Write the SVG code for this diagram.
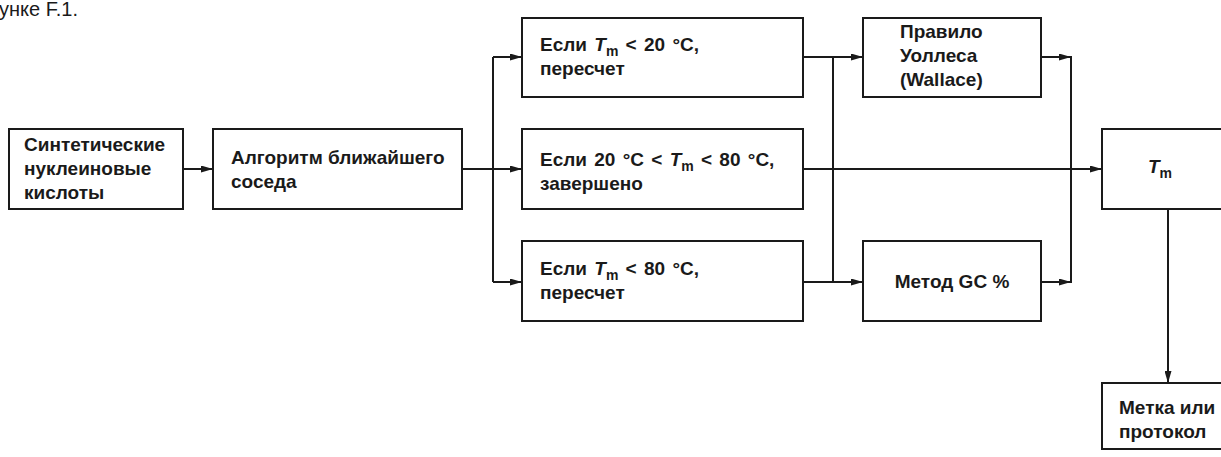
<svg xmlns="http://www.w3.org/2000/svg" width="1221" height="457" viewBox="0 0 1221 457">
  <style>
    .box { fill: #ffffff; stroke: #1a1a1a; stroke-width: 2; }
    .lbl { font-family: "Liberation Sans", Arial, sans-serif; font-weight: bold; font-size: 19px; fill: #1a1a1a; }
    .cap { font-family: "Liberation Sans", Arial, sans-serif; font-size: 20px; fill: #1a1a1a; }
    .fx { word-spacing: 2px; }
    .it { font-style: italic; }
    .sub { font-size: 14px; }
    .wire { fill: none; stroke: #1a1a1a; stroke-width: 2; }
    .arr { fill: none; stroke: #1a1a1a; stroke-width: 2; marker-end: url(#head); }
  </style>
  <defs>
    <marker id="head" viewBox="0 0 12 7" refX="12" refY="3.5" markerWidth="12" markerHeight="7" markerUnits="userSpaceOnUse" orient="auto">
      <path d="M0,0 L12,3.5 L0,7 Z" fill="#1a1a1a"/>
    </marker>
  </defs>
  <rect width="1221" height="457" fill="#ffffff"/>

  <text class="cap" x="-1" y="16">унке F.1.</text>

  <!-- connectors -->
  <g id="connectors">
    <path class="arr" d="M183,169 H213"/>
    <path class="wire" d="M462,169 H493 M493,57 V282"/>
    <path class="arr" d="M493,57 H522"/>
    <path class="arr" d="M493,169 H522"/>
    <path class="arr" d="M493,282 H522"/>
    <path class="wire" d="M803,57 H833 M803,282 H833 M833,57 V282"/>
    <path class="arr" d="M833,57 H863"/>
    <path class="arr" d="M833,282 H863"/>
    <path class="arr" d="M803,169 H1102"/>
    <path class="arr" d="M1041,57 H1071"/>
    <path class="arr" d="M1041,282 H1071"/>
    <path class="wire" d="M1071,56 V283"/>
    <path class="arr" d="M1168,209 V383"/>
  </g>

  <g id="n-synthetic">
    <rect class="box" x="9" y="129" width="174" height="80"/>
    <text class="lbl" x="24" y="151">Синтетические</text>
    <text class="lbl" x="24" y="175">нуклеиновые</text>
    <text class="lbl" x="24" y="199">кислоты</text>
  </g>

  <g id="n-nearest">
    <rect class="box" x="213" y="129" width="249" height="80"/>
    <text class="lbl" x="231" y="164">Алгоритм ближайшего</text>
    <text class="lbl" x="231" y="188">соседа</text>
  </g>

  <g id="n-low">
    <rect class="box" x="522" y="18" width="281" height="79"/>
    <text class="lbl fx" x="540" y="51">Если <tspan class="it">T</tspan><tspan class="sub" dy="5">m</tspan><tspan dy="-5"> &lt; 20 °C,</tspan></text>
    <text class="lbl" x="540" y="75">пересчет</text>
  </g>

  <g id="n-mid">
    <rect class="box" x="522" y="129" width="281" height="80"/>
    <text class="lbl fx" x="540" y="166">Если 20 °C &lt; <tspan class="it">T</tspan><tspan class="sub" dy="5">m</tspan><tspan dy="-5"> &lt; 80 °C,</tspan></text>
    <text class="lbl" x="540" y="190">завершено</text>
  </g>

  <g id="n-high">
    <rect class="box" x="522" y="241" width="281" height="80"/>
    <text class="lbl fx" x="540" y="275">Если <tspan class="it">T</tspan><tspan class="sub" dy="5">m</tspan><tspan dy="-5"> &lt; 80 °C,</tspan></text>
    <text class="lbl" x="540" y="299">пересчет</text>
  </g>

  <g id="n-wallace">
    <rect class="box" x="863" y="18" width="178" height="79"/>
    <text class="lbl" x="900" y="38">Правило</text>
    <text class="lbl" x="900" y="62">Уоллеса</text>
    <text class="lbl" x="900" y="86">(Wallace)</text>
  </g>

  <g id="n-gc">
    <rect class="box" x="863" y="241" width="178" height="80"/>
    <text class="lbl" x="952" y="288" text-anchor="middle">Метод GC %</text>
  </g>

  <g id="n-tm">
    <rect class="box" x="1102" y="129" width="140" height="80"/>
    <text class="lbl" x="1148" y="173"><tspan class="it">T</tspan><tspan class="sub" dy="5">m</tspan></text>
  </g>

  <g id="n-label">
    <rect class="box" x="1102" y="383" width="140" height="66"/>
    <text class="lbl" x="1119" y="414">Метка или</text>
    <text class="lbl" x="1119" y="438">протокол</text>
  </g>
</svg>
